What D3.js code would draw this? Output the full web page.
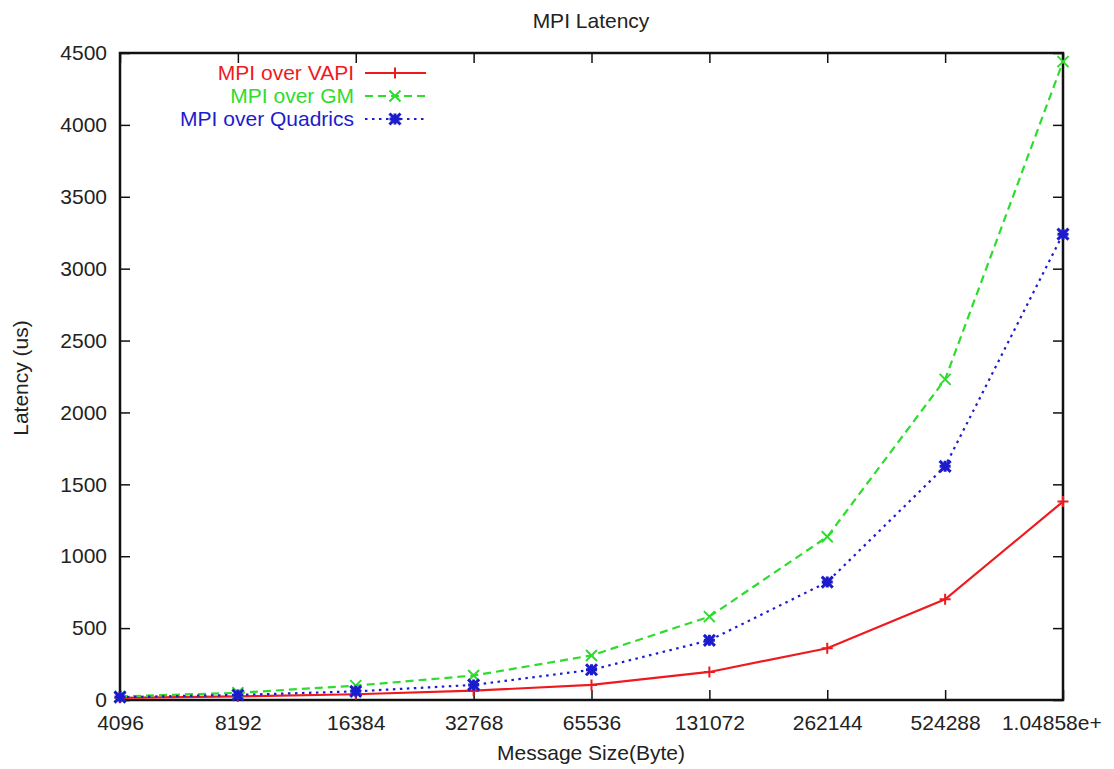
<!DOCTYPE html>
<html>
<head>
<meta charset="utf-8">
<script src="https://cdn.jsdelivr.net/npm/d3@7"></script>
<style>
  body { margin: 0; background: #fff; }
  svg text { font-family: "Liberation Sans", Arial, sans-serif; fill: #222; }
</style>
</head>
<body>
<div id="chart"></div>
<script>
// MPI latency chart, message size on log2 axis

var sizes = [4096, 8192, 16384, 32768, 65536, 131072, 262144, 524288, 1048576];
var sizeLabels = ["4096", "8192", "16384", "32768", "65536", "131072", "262144", "524288", "1.04858e+06"];
var vapi = [15, 25, 40, 65, 105, 195, 360, 700, 1380];
var gm = [25, 50, 100, 170, 310, 580, 1135, 2230, 4440];
var quadrics = [20, 35, 60, 105, 210, 415, 820, 1625, 3240];
var yTicks = [0, 500, 1000, 1500, 2000, 2500, 3000, 3500, 4000, 4500];

var series = [
  {name: "MPI over VAPI", values: vapi, color: "#ee1a1e", dash: null, marker: "plus"},
  {name: "MPI over GM", values: gm, color: "#2edc2e", dash: "8,5", marker: "cross"},
  {name: "MPI over Quadrics", values: quadrics, color: "#1c1ccc", dash: "2.5,4.5", marker: "star"}
];

var W = 1114, H = 769;
// plot box (note: "top" is a reserved window prop, so use pl/pr/pt/pb)
var pl = 120, pr = 1063, pt = 53, pb = 700;

var svg = d3.select("#chart").append("svg")
  .attr("width", W)
  .attr("height", H);

// gnuplot cut the last x label off, do the same
svg.append("defs").append("clipPath")
  .attr("id", "pageclip")
  .append("rect")
  .attr("x", 0).attr("y", 0)
  .attr("width", 1102).attr("height", H);

var x = d3.scaleLog().base(2)
  .domain([sizes[0], sizes[sizes.length - 1]])
  .range([pl, pr]);

var y = d3.scaleLinear()
  .domain([0, 4500])
  .range([pb, pt]);

// axes (ticks point inward like gnuplot)
var yAxis = d3.axisLeft(y).tickValues(yTicks).tickFormat(d3.format("d"))
  .tickSize(-10).tickPadding(13);
var xAxis = d3.axisBottom(x).tickValues(sizes)
  .tickFormat(function(d, i) { return sizeLabels[i]; })
  .tickSize(-10).tickPadding(15);

svg.append("g")
  .attr("transform", "translate(" + pl + ",0)")
  .call(yAxis)
  .call(function(g) { g.select(".domain").remove(); })
  .selectAll("text").style("font-size", "21px");

svg.append("g")
  .attr("clip-path", "url(#pageclip)")
  .append("g")
  .attr("transform", "translate(0," + pb + ")")
  .call(xAxis)
  .call(function(g) { g.select(".domain").remove(); })
  .selectAll("text").style("font-size", "21px");

// mirrored ticks
svg.append("g")
  .attr("transform", "translate(" + pr + ",0)")
  .call(d3.axisRight(y).tickValues(yTicks).tickSize(-10).tickFormat(""))
  .call(function(g) { g.select(".domain").remove(); });

svg.append("g")
  .attr("transform", "translate(0," + pt + ")")
  .call(d3.axisTop(x).tickValues(sizes).tickSize(-10).tickFormat(""))
  .call(function(g) { g.select(".domain").remove(); });

svg.selectAll(".tick line").attr("stroke", "#111").attr("stroke-width", 1.5);

// border
svg.append("rect")
  .attr("x", pl).attr("y", pt)
  .attr("width", pr - pl).attr("height", pb - pt)
  .attr("fill", "none").attr("stroke", "#111").attr("stroke-width", 2.5);

// markers
function markerPath(type, cx, cy) {
  var r = 5.5;
  if (type == "plus") {
    return "M" + (cx - r) + "," + cy + "H" + (cx + r) + "M" + cx + "," + (cy - r) + "V" + (cy + r);
  }
  var p = "M" + (cx - r) + "," + (cy - r) + "L" + (cx + r) + "," + (cy + r) +
          "M" + (cx - r) + "," + (cy + r) + "L" + (cx + r) + "," + (cy - r);
  if (type == "star") {
    p += "M" + (cx - r) + "," + cy + "H" + (cx + r) + "M" + cx + "," + (cy - r) + "V" + (cy + r);
  }
  return p;
}

var line = d3.line()
  .x(function(d, i) { return x(sizes[i]); })
  .y(function(d) { return y(d); });

series.forEach(function(s) {
  var g = svg.append("g");
  g.append("path")
    .datum(s.values)
    .attr("d", line)
    .attr("fill", "none")
    .attr("stroke", s.color)
    .attr("stroke-width", 2.2)
    .attr("stroke-dasharray", s.dash);
  g.selectAll("path.pt")
    .data(s.values)
    .enter()
    .append("path")
    .attr("class", "pt")
    .attr("d", function(d, i) { return markerPath(s.marker, x(sizes[i]), y(d)); })
    .attr("stroke", s.color)
    .attr("stroke-width", s.marker == "star" ? 3 : 2)
    .attr("fill", "none");
});

// legend
var legend = svg.append("g");
series.forEach(function(s, i) {
  var ly = 73 + i * 23;
  legend.append("text")
    .attr("x", 354).attr("y", ly + 7)
    .attr("text-anchor", "end")
    .style("font-size", "21px")
    .style("fill", s.color)
    .text(s.name);
  legend.append("line")
    .attr("x1", 365).attr("x2", 426)
    .attr("y1", ly).attr("y2", ly)
    .attr("stroke", s.color)
    .attr("stroke-width", 2.2)
    .attr("stroke-dasharray", s.dash);
  legend.append("path")
    .attr("d", markerPath(s.marker, 395, ly))
    .attr("stroke", s.color)
    .attr("stroke-width", s.marker == "star" ? 3 : 2)
    .attr("fill", "none");
});

// titles
svg.append("text")
  .attr("x", 591).attr("y", 28)
  .attr("text-anchor", "middle")
  .style("font-size", "21px")
  .text("MPI Latency");

svg.append("text")
  .attr("x", 591).attr("y", 760)
  .attr("text-anchor", "middle")
  .style("font-size", "21px")
  .text("Message Size(Byte)");

svg.append("text")
  .attr("transform", "translate(28,378) rotate(-90)")
  .attr("text-anchor", "middle")
  .style("font-size", "21px")
  .text("Latency (us)");
</script>
</body>
</html>
